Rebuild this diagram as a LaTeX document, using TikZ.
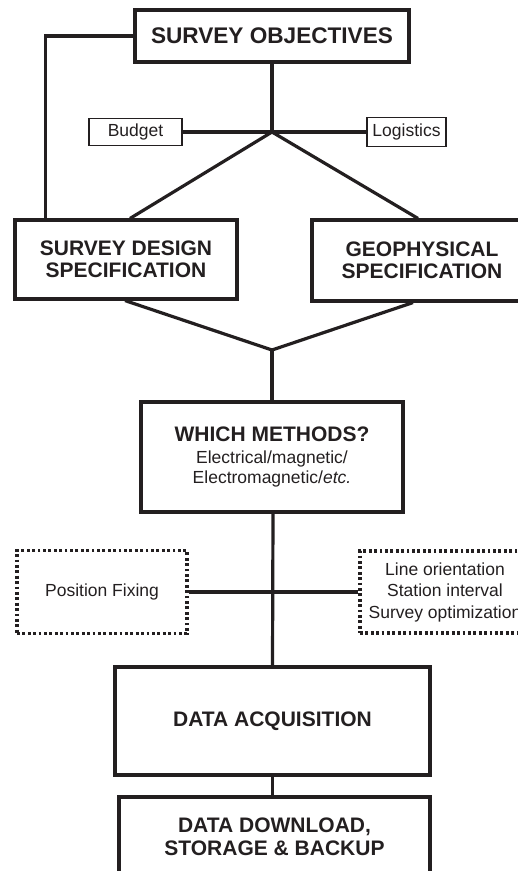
\documentclass[tikz,border=0pt]{standalone}
\usepackage{fontspec}
\setmainfont{Liberation Sans}
\definecolor{ink}{HTML}{231F20}

\begin{document}
\begin{tikzpicture}[
    x=1pt,y=-1pt,
    line cap=butt,
    line join=miter,
    every node/.style={text=ink,align=center,inner sep=0pt},
    bigbox/.style={draw=ink,line width=3.1pt,font=\fontsize{21}{22.5}\selectfont\bfseries},
    tagbox/.style={draw=ink,line width=1.5pt,font=\fontsize{17.5}{21.5}\selectfont},
    dotbox/.style={draw=ink,line width=3.2pt,dash pattern=on 2.8pt off 2.6pt,font=\fontsize{17.5}{21.5}\selectfont},
    link/.style={draw=ink,line width=3.2pt},
]
\useasboundingbox (0,0) rectangle (518,871);
\clip (0,0) rectangle (518,871);
% boxes
\node[bigbox,minimum width=274,minimum height=52,font=\fontsize{22.6}{24}\selectfont\bfseries] (obj) at (272,36) {SURVEY OBJECTIVES};
\node[tagbox,minimum width=93,minimum height=27] (budget) at (135.5,132) {Budget};
\node[tagbox,minimum width=79,minimum height=29] (logistics) at (406.5,132) {Logistics};
\node[bigbox,minimum width=222,minimum height=79] (sds) at (126,259.5) {SURVEY DESIGN\\SPECIFICATION};
\node[bigbox,minimum width=220,minimum height=81] (geo) at (422,260.5) {GEOPHYSICAL\\SPECIFICATION};
\node[bigbox,minimum width=262,minimum height=110] (methods) at (272,457)
  {WHICH METHODS?\\[-1pt]{\fontsize{17.5}{20}\selectfont\mdseries Electrical/magnetic/}\\[-2pt]{\fontsize{17.5}{20}\selectfont\mdseries Electromagnetic/\textit{etc.}}};
\node[dotbox,minimum width=170,minimum height=83] (fix) at (102,592) {Position Fixing};
\node[dotbox,minimum width=170,minimum height=82] (orient) at (445,592) {Line orientation\\Station interval\\Survey optimization};
\node[bigbox,minimum width=315,minimum height=108] (acq) at (272.5,721) {DATA ACQUISITION};
\node[bigbox,minimum width=311,minimum height=80] (store) at (274.5,837) {DATA DOWNLOAD,\\STORAGE \& BACKUP};
% junctions
\coordinate (top) at (272,132);
\coordinate (mid) at (272,350);
\coordinate (low) at (273,592);
% connectors
\draw[link] (obj.west) -| ([xshift=32pt]sds.north west);
\draw[link] (obj.south) -- (top);
\draw[link] (budget.east) -- (top) -- (logistics.west);
\draw[link] ([xshift=4pt]sds.north) -- (top) -- ([xshift=-4pt]geo.north);
\draw[link] ([xshift=-1pt]sds.south) -- (mid) -- ([xshift=-9pt]geo.south);
\draw[link] (mid) -- (methods.north);
\draw[link] ([xshift=1pt]methods.south) -- (acq.north);
\draw[link] (fix.east) -- (orient.west);
\draw[link] (acq.south) -- (acq.south |- store.north);
\end{tikzpicture}
\end{document}
